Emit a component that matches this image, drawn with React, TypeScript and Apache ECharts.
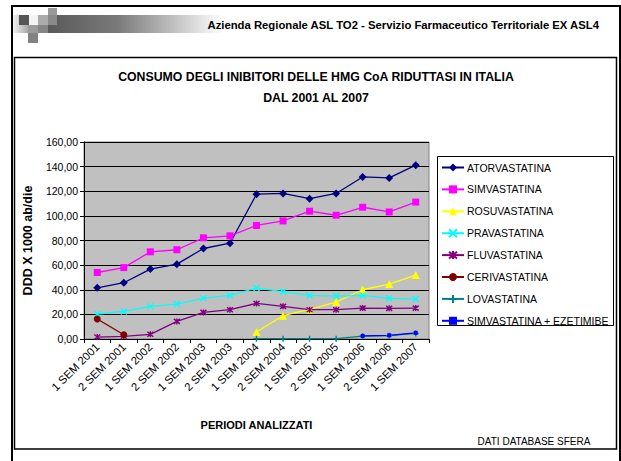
import React, { useEffect, useRef } from "react";
import * as echarts from "echarts";

const categories = [
  "1 SEM 2001", "2 SEM 2001", "1 SEM 2002", "2 SEM 2002", "1 SEM 2003", "2 SEM 2003",
  "1 SEM 2004", "2 SEM 2004", "1 SEM 2005", "2 SEM 2005", "1 SEM 2006", "2 SEM 2006", "1 SEM 2007",
];
const atorvastatina = [41.6, 45.7, 56.8, 60.8, 73.5, 77.8, 117.6, 118.2, 114.0, 118.2, 131.6, 130.8, 141.2];
const simvastatina = [54.0, 58.0, 70.8, 72.5, 82.2, 83.8, 92.2, 95.9, 103.8, 100.5, 107.0, 103.2, 111.2];
const rosuvastatina = [null, null, null, null, null, null, 5.7, 18.9, 24.0, 30.0, 40.0, 44.6, 51.9];
const pravastatina = [20.3, 22.4, 26.5, 28.4, 33.2, 35.4, 41.4, 38.4, 35.4, 34.9, 35.4, 33.0, 32.4];
const fluvastatina = [1.6, 2.2, 3.8, 14.3, 21.6, 23.8, 28.9, 26.5, 23.8, 23.8, 25.1, 24.9, 25.1];
const cerivastatina = [16.2, 3.5, null, null, null, null, null, null, null, null, null, null, null];
const lovastatina = [null, null, null, null, null, null, 0.3, 0.3, 0.3, 0.3, 2.3, 2.7, 4.5];
const simvaEzetimibe = [null, null, null, null, null, null, null, null, null, null, 2.5, 3.0, 5.0];
const yTicks = [0, 20, 40, 60, 80, 100, 120, 140, 160];

const FONT = "'Liberation Sans', Arial, sans-serif";

const X_PATH = "path://M0,0L10,10M10,0L0,10";
const AST_PATH = "path://M0,0L10,10M10,0L0,10M5,-1L5,11";
const PLUS_PATH = "path://M5,0L5,10M0,5L10,5";

function mk(name: string, data: (number | null)[], color: string, symbol: string, size: number, stroked = false) {
  return {
    name,
    type: "line",
    data,
    symbol,
    symbolSize: size,
    showSymbol: true,
    connectNulls: false,
    lineStyle: { color, width: 1.3 },
    itemStyle: stroked
      ? { color, borderColor: color, borderWidth: 1.4 }
      : { color, borderColor: color, borderWidth: 0 },
    emphasis: { disabled: true },
  };
}

export default function App() {
  const ref = useRef<HTMLDivElement>(null);
  useEffect(() => {
    if (!ref.current) return;
    const chart = echarts.init(ref.current, null, { renderer: "svg" });
    const squares = [
      { x: 48, y: 8, w: 9, h: 7, c: "#9a9a9a" },
      { x: 19, y: 15, w: 10, h: 10, c: "#555555" },
      { x: 38, y: 15, w: 10, h: 10, c: "#ababab" },
      { x: 48, y: 15, w: 9, h: 10, c: "#8a8a8a" },
      { x: 28, y: 25, w: 10, h: 8, c: "#9c9c9c" },
      { x: 38, y: 25, w: 10, h: 8, c: "#858585" },
      { x: 28, y: 33, w: 10, h: 10, c: "#828282" },
    ];
    const option: any = {
      animation: false,
      backgroundColor: "#ffffff",
      textStyle: { fontFamily: FONT },
      grid: {
        left: 84, top: 142, width: 345, height: 197,
        show: true, backgroundColor: "#c0c0c0", borderColor: "#808080", borderWidth: 1,
        containLabel: false,
      },
      xAxis: {
        type: "category",
        data: categories,
        boundaryGap: true,
        name: "PERIODI ANALIZZATI",
        nameLocation: "middle",
        nameGap: 80,
        nameTextStyle: { fontFamily: FONT, fontSize: 11, fontWeight: "bold", color: "#000" },
        axisLine: { lineStyle: { color: "#000", width: 1 } },
        axisTick: { show: true, length: 4, interval: 0, lineStyle: { color: "#000" } },
        axisLabel: { interval: 0, rotate: 45, fontFamily: FONT, fontSize: 11.3, color: "#000", margin: 6 },
        splitLine: { show: false },
      },
      yAxis: {
        type: "value",
        min: 0,
        max: 160,
        interval: 20,
        name: "DDD X 1000 ab/die",
        nameLocation: "middle",
        nameGap: 42,
        nameTextStyle: { fontFamily: FONT, fontSize: 12.5, fontWeight: "bold", color: "#000" },
        axisLine: { show: true, lineStyle: { color: "#000", width: 1 } },
        axisTick: { show: true, length: 4, lineStyle: { color: "#000" } },
        axisLabel: {
          fontFamily: FONT, fontSize: 10.5, color: "#000", margin: 6,
          formatter: (v: number) => (yTicks.includes(v) ? v.toFixed(2).replace(".", ",") : ""),
        },
        splitLine: { show: true, lineStyle: { color: "#000", width: 1 } },
      },
      legend: {
        orient: "vertical",
        left: 441,
        top: 162,
        itemWidth: 22,
        itemHeight: 10,
        itemGap: 10.9,
        padding: 0,
        selectedMode: false,
        textStyle: { fontFamily: FONT, fontSize: 10.5, color: "#000", padding: [0, 0, 0, -2] },
        data: [
          "ATORVASTATINA", "SIMVASTATINA", "ROSUVASTATINA", "PRAVASTATINA",
          "FLUVASTATINA", "CERIVASTATINA", "LOVASTATINA", "SIMVASTATINA + EZETIMIBE",
        ],
      },
      series: [
        mk("ATORVASTATINA", atorvastatina, "#000080", "diamond", 8),
        mk("SIMVASTATINA", simvastatina, "#ff00ff", "rect", 7),
        mk("ROSUVASTATINA", rosuvastatina, "#ffff00", "triangle", 8),
        mk("PRAVASTATINA", pravastatina, "#00ffff", X_PATH, 6, true),
        mk("FLUVASTATINA", fluvastatina, "#800080", AST_PATH, 6, true),
        mk("CERIVASTATINA", cerivastatina, "#800000", "circle", 7),
        mk("LOVASTATINA", lovastatina, "#008080", PLUS_PATH, 6, true),
        mk("SIMVASTATINA + EZETIMIBE", simvaEzetimibe, "#0000ff", "rect", 4),
      ],
      graphic: [
        {
          type: "rect", silent: true, z: -10,
          shape: { x: 13, y: 15, width: 210, height: 18 },
          style: {
            fill: new echarts.graphic.LinearGradient(0, 0, 1, 0, [
              { offset: 0, color: "#f2f2f2" },
              { offset: 0.08, color: "#a0a0a0" },
              { offset: 0.17, color: "#5a5a5a" },
              { offset: 0.5, color: "#7a7a7a" },
              { offset: 1, color: "#ffffff" },
            ]),
          },
        },
        {
          type: "rect", silent: true, z: -9,
          shape: { x: 29, y: 15, width: 9, height: 10 },
          style: { fill: "#f4f4f4" },
        },
        ...squares.map((s) => ({
          type: "rect", silent: true, z: -8,
          shape: { x: s.x, y: s.y, width: s.w, height: s.h },
          style: { fill: s.c },
        })),
        {
          type: "text", silent: true, x: 599, y: 25,
          style: {
            text: "Azienda Regionale ASL TO2 - Servizio Farmaceutico Territoriale EX ASL4",
            fontFamily: FONT, fontSize: 11.3, fontWeight: "bold", fill: "#000",
            align: "right", verticalAlign: "middle",
          },
        },
        {
          type: "rect", silent: true,
          shape: { x: 12, y: 6, width: 608, height: 462 },
          style: { fill: "none", stroke: "#000", lineWidth: 2 },
        },
        {
          type: "rect", silent: true,
          shape: { x: 14.5, y: 57.5, width: 602, height: 391.5 },
          style: { fill: "none", stroke: "#000", lineWidth: 1.5 },
        },
        {
          type: "text", silent: true, x: 316, y: 77,
          style: {
            text: "CONSUMO DEGLI INIBITORI DELLE HMG CoA RIDUTTASI IN ITALIA",
            fontFamily: FONT, fontSize: 12.3, fontWeight: "bold", fill: "#000",
            align: "center", verticalAlign: "middle",
          },
        },
        {
          type: "text", silent: true, x: 316, y: 98,
          style: {
            text: "DAL 2001 AL 2007",
            fontFamily: FONT, fontSize: 12.3, fontWeight: "bold", fill: "#000",
            align: "center", verticalAlign: "middle",
          },
        },
        {
          type: "rect", silent: true,
          shape: { x: 437.5, y: 156.5, width: 176, height: 169 },
          style: { fill: "#fff", stroke: "#000", lineWidth: 1 },
          z: -1,
        },
        {
          type: "text", silent: true, x: 534, y: 441,
          style: {
            text: "DATI DATABASE SFERA",
            fontFamily: FONT, fontSize: 10, fill: "#000",
            align: "center", verticalAlign: "middle",
          },
        },
      ],
    };
    chart.setOption(option);
    return () => chart.dispose();
  }, []);
  return <div ref={ref} style={{ width: 621, height: 461, position: "absolute", left: 0, top: 0 }} />;
}
